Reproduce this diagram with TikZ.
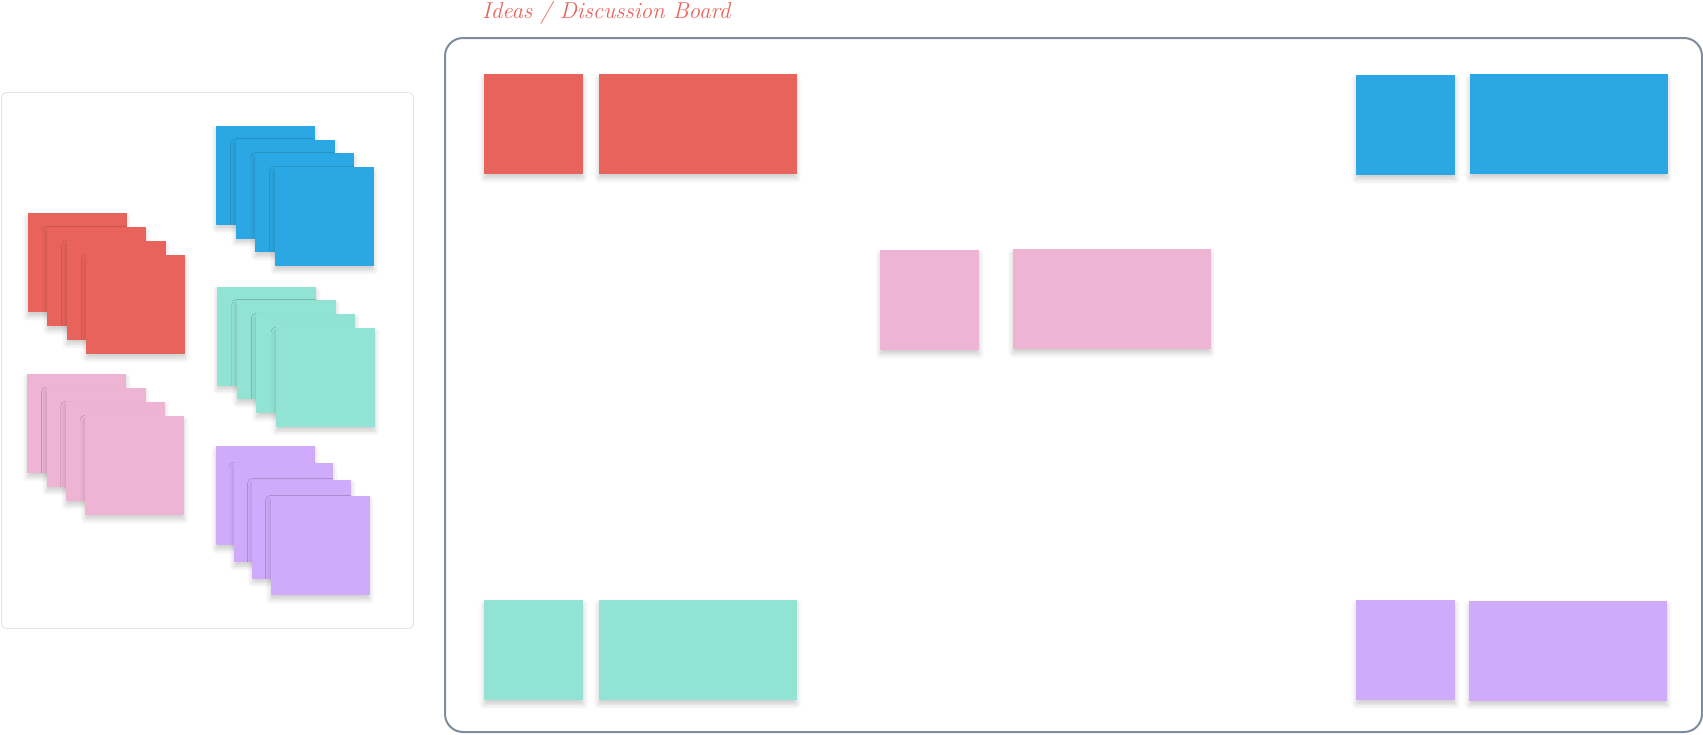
\documentclass[tikz,border=0pt]{standalone}
\usepackage{tikz}
\usetikzlibrary{positioning,shadows.blur}

\definecolor{notered}{HTML}{E8635C}
\definecolor{noteblue}{HTML}{2BA7E3}
\definecolor{noteteal}{HTML}{91E3D3}
\definecolor{notepink}{HTML}{EDB4D4}
\definecolor{notepurple}{HTML}{D0AAFB}
\definecolor{boardline}{HTML}{7F8C9B}
\definecolor{panelline}{HTML}{E6E6E6}

\begin{document}
\begin{tikzpicture}[x=1pt, y=-1pt, node distance = 15pt,
	note/.style = {rectangle, inner sep=0pt, anchor=north west,
		minimum width=99pt, minimum height=100pt,
		blur shadow={shadow xshift=0pt, shadow yshift=-4pt, shadow blur radius=5pt, shadow opacity=20}},
	wide/.style = {note, minimum width=198pt},
	sheet/.style = {note, minimum height=99pt}]
	
	\useasboundingbox (0,0) rectangle (1703,734);
	
	% left panel: stacks of notes
	\node[draw=panelline, line width=1pt, rounded corners=5pt, anchor=north west,
		minimum width=412pt, minimum height=536pt] (panel) at (1,92) {};
	\foreach \col/\x/\y/\dx/\dy/\nm in {notered/27.3/213.2/19.6/13.9/red,
		noteblue/216/125.4/19.5/13.9/blue,
		noteteal/217/286.4/19.6/13.8/teal,
		notepink/27/373.9/19.3/14/pink,
		notepurple/215.7/446.1/18.2/16.7/purple}
	{
		\foreach \i in {0,...,3}
			\node[sheet, fill=\col] (\nm\i) at (\x+\i*\dx, \y+\i*\dy) {};
	}
	
	% board with its title
	\node[draw=boardline, line width=2pt, rounded corners=18pt, anchor=north west,
		minimum width=1257pt, minimum height=694pt] (board) at (444,37) {};
	\node[anchor=west, inner sep=0pt, text=notered,
		font=\fontsize{23}{27}\selectfont\itshape] (title) at (482,13) {Ideas / Discussion Board};
	
	% notes on the board
	\node[note, fill=notered] (redA) at (484,74) {};
	\node[wide, fill=notered, right = 15pt of redA.north east, anchor=north west] (redB) {};
	
	\node[note, fill=noteblue] (blueA) at (1356,75) {};
	\node[wide, fill=noteblue, right = 14pt of blueA.north east, anchor=north west, yshift=1pt] (blueB) {};
	
	\node[note, fill=notepink] (pinkA) at (880,250) {};
	\node[wide, fill=notepink, right = 33pt of pinkA.north east, anchor=north west, yshift=1pt] (pinkB) {};
	
	\node[note, fill=noteteal] (tealA) at (484,600) {};
	\node[wide, fill=noteteal, right = 15pt of tealA.north east, anchor=north west] (tealB) {};
	
	\node[note, fill=notepurple] (purpleA) at (1356,600) {};
	\node[wide, fill=notepurple, right = 13.5pt of purpleA.north east, anchor=north west, yshift=-1pt] (purpleB) {};
\end{tikzpicture}
\end{document}
